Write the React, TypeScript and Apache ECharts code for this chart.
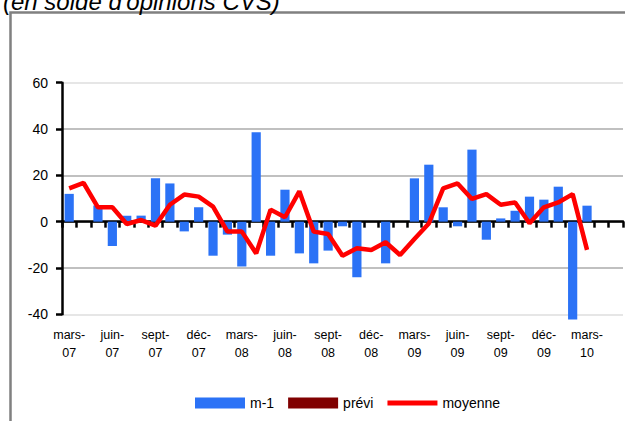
import React, { useEffect, useRef } from "react";
import * as echarts from "echarts";

const categories: string[] = [
  "mars-07", "avr-07", "mai-07", "juin-07", "juil-07", "août-07", "sept-07", "oct-07", "nov-07", "déc-07", "janv-08", "févr-08",
  "mars-08", "avr-08", "mai-08", "juin-08", "juil-08", "août-08", "sept-08", "oct-08", "nov-08", "déc-08", "janv-09", "févr-09",
  "mars-09", "avr-09", "mai-09", "juin-09", "juil-09", "août-09", "sept-09", "oct-09", "nov-09", "déc-09", "janv-10", "févr-10",
  "mars-10", "avr-10", "mai-10",
];

const m1Values: (number | null)[] = [
  12, 0, 7, -10.5, 2.6, 2.6, 18.7, 16.5, -4.2, 6.2, -14.7, -5.6,
  -19.4, 38.6, -14.7, 13.8, -13.7, -18, -12.5, -2, -24, 0, -18, 0,
  18.7, 24.6, 6.2, -2, 31.1, -7.8, 1.4, 4.7, 10.8, 9.5, 15.1, -42.2,
  6.9, null, null,
];

const previValues: (number | null)[] = categories.map(() => null);

const moyenneValues: (number | null)[] = [
  14.4, 16.7, 6.2, 6.2, -1, 0.7, -1.7, 7.3, 11.7, 10.8, 6.5, -4.3,
  -4.3, -13.7, 5.2, 1.9, 13.1, -4.3, -5.3, -14.7, -11.5, -12.2, -8.9, -14.4,
  -7.5, -0.8, 14.4, 16.5, 9.8, 11.9, 7.3, 8.3, -0.7, 6.2, 8.3, 11.9,
  -12.2, null, null,
];

const seriesNames = ["m-1", "prévi", "moyenne"];
const titleText = "(en solde d'opinions CVS)";

const FONT = "'Liberation Sans', Arial, sans-serif";

export default function App() {
  const ref = useRef<HTMLDivElement>(null);

  useEffect(() => {
    if (!ref.current) return;
    const chart = echarts.init(ref.current, null, { renderer: "svg" });
    chart.setOption({
      animation: false,
      backgroundColor: "#ffffff",
      textStyle: { fontFamily: FONT, color: "#000" },
      graphic: [
        {
          type: "rect",
          shape: { x: 10.5, y: 12.5, width: 700, height: 500 },
          style: { fill: "none", stroke: "#808080", lineWidth: 2.5 },
          silent: true,
        },
        {
          type: "text",
          x: 3,
          y: 1,
          style: {
            text: titleText,
            font: "italic 24px " + FONT,
            fill: "#000",
            verticalAlign: "middle",
            align: "left",
          },
        },
      ],
      grid: { left: 62, right: 2, top: 82.7, bottom: 106.7 },
      legend: {
        left: 190,
        top: 391,
        itemWidth: 50,
        itemHeight: 11,
        itemGap: 14,
        symbolKeepAspect: true,
        textStyle: { fontSize: 14, fontFamily: FONT, color: "#000" },
        data: [
          { name: seriesNames[0], icon: "rect" },
          { name: seriesNames[1], icon: "rect" },
          { name: seriesNames[2], icon: "path://M0,0H50V5H0Z" },
        ],
      },
      xAxis: [
        {
          type: "category",
          data: categories,
          boundaryGap: true,
          axisLine: { show: true, onZero: true, lineStyle: { color: "#000", width: 2.5 } },
          axisTick: { show: true, interval: 0, length: 6, lineStyle: { color: "#000", width: 2.5 } },
          axisLabel: { show: false },
          splitLine: { show: false },
        },
        {
          type: "category",
          data: categories,
          position: "bottom",
          boundaryGap: true,
          axisLine: { show: false, onZero: false },
          axisTick: { show: false },
          axisLabel: {
            show: true,
            interval: 2,
            margin: 12,
            fontSize: 12.5,
            lineHeight: 17.5,
            color: "#000",
            fontFamily: FONT,
            align: "center",
            formatter: (v: string) => {
              const i = v.lastIndexOf("-");
              return v.slice(0, i + 1) + "\n" + v.slice(i + 1);
            },
          },
          splitLine: { show: false },
        },
      ],
      yAxis: {
        type: "value",
        min: -40,
        max: 60,
        interval: 20,
        axisLine: { show: true, lineStyle: { color: "#000", width: 2.5 } },
        axisTick: { show: true, length: 6, lineStyle: { color: "#000", width: 2.5 } },
        axisLabel: { fontSize: 14, color: "#000", margin: 14, fontFamily: FONT },
        splitLine: {
          show: true,
          lineStyle: {
            color: ["#e6e6e6", "#c0c0c0", "#c0c0c0", "#c0c0c0", "#c0c0c0", "#e6e6e6"],
            width: 2,
          },
        },
      },
      series: [
        {
          name: seriesNames[0],
          type: "bar",
          xAxisIndex: 0,
          data: m1Values,
          barWidth: "64%",
          barGap: "-100%",
          clip: false,
          itemStyle: { color: "#2b72f6" },
          z: 2,
        },
        {
          name: seriesNames[1],
          type: "bar",
          xAxisIndex: 0,
          data: previValues,
          barWidth: "64%",
          barGap: "-100%",
          itemStyle: { color: "#800000" },
          z: 2,
        },
        {
          name: seriesNames[2],
          type: "line",
          xAxisIndex: 0,
          data: moyenneValues,
          symbol: "none",
          lineStyle: { color: "#ff0000", width: 4.5 },
          itemStyle: { color: "#ff0000" },
          z: 4,
        },
      ],
    });
    return () => chart.dispose();
  }, []);

  return (
    <div
      ref={ref}
      style={{ position: "absolute", left: 0, top: 0, width: 625, height: 421 }}
    />
  );
}
